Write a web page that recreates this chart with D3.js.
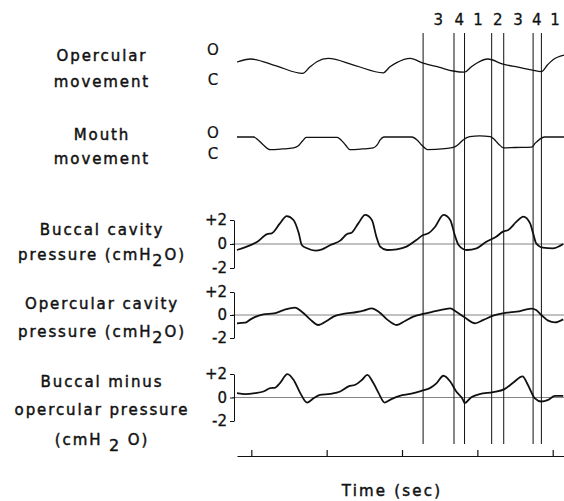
<!DOCTYPE html>
<html>
<head>
<meta charset="utf-8">
<script src="https://cdn.jsdelivr.net/npm/d3@7"></script>
<style>
  body { margin: 0; background: #fff; }
  text { font-family: "DejaVu Sans", sans-serif; fill: #111; stroke: #111; stroke-width: 0.45px; }
</style>
</head>
<body>
<script>
// time ticks (sec) and the phase markers
const timeTicks = [1, 2, 3, 4, 5];
const markerTimes = [3.28, 3.69, 3.83, 4.19, 4.35, 4.74, 4.85];
const phaseLabels = ["3", "4", "1", "2", "3", "4", "1"];
const phaseLabelTimes = [3.48, 3.76, 4.01, 4.27, 4.54, 4.79, 5.03];

// movement traces: [time, position] with C = 0, O = 1
const opercMovement = [[0.81,0.60],[0.99,0.70],[1.33,0.47],[1.68,0.22],[1.78,0.44],[1.87,0.61],[2.02,0.72],
  [2.38,0.48],[2.75,0.24],[2.84,0.44],[2.93,0.58],[3.11,0.72],[3.28,0.56],[3.50,0.42],[3.68,0.30],[3.83,0.26],
  [3.91,0.42],[3.99,0.56],[4.14,0.70],[4.34,0.53],[4.54,0.43],[4.73,0.33],[4.85,0.28],[4.93,0.50],[5.00,0.67],[5.15,0.83]];

const mouthMovement = [[0.81,0.81],[1.03,0.81],[1.09,0.67],[1.16,0.43],[1.25,0.21],[1.41,0.24],[1.56,0.29],
  [1.62,0.38],[1.68,0.62],[1.73,0.79],[2.14,0.79],[2.19,0.67],[2.25,0.43],[2.31,0.21],[2.47,0.24],[2.62,0.29],
  [2.67,0.43],[2.71,0.67],[2.76,0.81],[3.13,0.81],[3.20,0.67],[3.26,0.43],[3.34,0.21],[3.57,0.26],[3.68,0.31],
  [3.74,0.43],[3.81,0.67],[3.90,0.83],[4.03,0.86],[4.17,0.83],[4.22,0.71],[4.28,0.48],[4.35,0.29],[4.50,0.31],
  [4.72,0.33],[4.77,0.52],[4.83,0.71],[4.89,0.81],[5.15,0.81]];

// pressure traces: [time, cmH2O]
const buccalPressure = [[0.81,-0.5],[0.94,-0.22],[1.08,0.19],[1.21,0.83],[1.27,0.89],[1.38,1.72],[1.47,2.33],
  [1.56,2.0],[1.63,0.89],[1.67,-0.08],[1.74,-0.36],[1.85,-0.56],[1.94,-0.44],[2.05,-0.08],[2.18,0.28],[2.27,0.83],
  [2.33,0.94],[2.42,1.72],[2.51,2.42],[2.60,2.0],[2.66,0.61],[2.71,-0.22],[2.80,-0.5],[2.93,-0.44],[3.06,-0.22],
  [3.19,0.33],[3.28,0.75],[3.35,0.89],[3.44,1.44],[3.55,2.42],[3.64,2.0],[3.70,0.75],[3.75,-0.08],[3.86,-0.5],
  [3.99,-0.36],[4.12,0.19],[4.25,0.61],[4.34,1.03],[4.41,1.17],[4.52,1.86],[4.61,2.28],[4.70,1.72],[4.74,0.89],
  [4.78,0.06],[4.87,-0.31],[5.00,-0.36],[5.14,0]];

const opercPressure = [[0.81,-0.72],[0.92,-0.67],[0.99,-0.38],[1.08,-0.09],[1.16,0.06],[1.30,0.14],[1.43,0.43],
  [1.58,0.64],[1.67,0.29],[1.78,-0.38],[1.89,-0.87],[2.00,-0.52],[2.09,-0.14],[2.22,0.09],[2.40,0.26],[2.49,0.38],
  [2.60,0.58],[2.69,0.29],[2.80,-0.38],[2.93,-0.87],[3.04,-0.52],[3.15,-0.14],[3.28,0.09],[3.41,0.29],[3.55,0.49],
  [3.64,0.58],[3.72,0.29],[3.83,-0.20],[3.97,-0.72],[4.08,-0.43],[4.21,-0.06],[4.39,0.20],[4.52,0.29],[4.72,0.55],
  [4.78,0.43],[4.85,0.0],[4.94,-0.49],[5.03,-0.64],[5.14,-0.38]];

const diffPressure = [[0.81,0.37],[0.92,0.29],[1.05,0.37],[1.16,0.51],[1.25,0.80],[1.32,0.85],[1.38,1.23],
  [1.48,1.99],[1.56,1.51],[1.65,0.37],[1.74,-0.43],[1.83,-0.05],[1.91,0.23],[2.05,0.31],[2.18,0.51],[2.29,0.94],
  [2.38,1.08],[2.47,1.51],[2.54,1.93],[2.62,1.23],[2.69,0.37],[2.77,-0.43],[2.86,-0.14],[2.97,0.14],[3.11,0.31],
  [3.26,0.57],[3.37,0.80],[3.46,1.23],[3.55,1.85],[3.64,1.36],[3.72,0.51],[3.81,-0.2],[3.83,-0.48],[3.92,0.03],
  [4.03,0.29],[4.21,0.46],[4.36,0.71],[4.47,1.23],[4.60,1.79],[4.67,1.08],[4.76,-0.05],[4.85,-0.34],[4.94,-0.2],
  [5.03,0.14],[5.14,0.14]];

// row labels, "_2" marks the subscript
const labelOpercMove = ["Opercular", "movement"];
const labelMouthMove = ["Mouth", "movement"];
const labelBuccal = ["Buccal cavity", "pressure (cmH_2O)"];
const labelOpercCav = ["Opercular cavity", "pressure (cmH_2O)"];
const labelDiff = ["Buccal minus", "opercular pressure", "(cmH _2 O)"];
const positionLabels = ["C", "O"];
const pressureTicks = [-2, 0, 2];
const timeLabel = "Time (sec)";

const W = 564, H = 501;
const svg = d3.select("body").append("svg")
  .attr("width", W).attr("height", H);

const x = d3.scaleLinear().domain([0.81, 5.15]).range([237, 564]);

// each panel: its data, a y scale and where the label lines sit
const panels = [
  {data: opercMovement, y: d3.scaleLinear().domain([0, 1]).range([80, 50]), kind: "move", text: labelOpercMove, base: [60.5, 86.5], width: 1.3},
  {data: mouthMovement, y: d3.scaleLinear().domain([0, 1]).range([154, 133]), kind: "move", text: labelMouthMove, base: [140, 163.5], width: 1.3},
  {data: buccalPressure, y: d3.scaleLinear().domain([-2, 2]).range([268, 220]), kind: "press", text: labelBuccal, base: [235, 260], width: 1.8},
  {data: opercPressure, y: d3.scaleLinear().domain([-2, 2]).range([338, 292]), kind: "press", text: labelOpercCav, base: [308.5, 336.5], width: 1.8},
  {data: diffPressure, y: d3.scaleLinear().domain([-2, 2]).range([421, 374]), kind: "press", text: labelDiff, base: [386.5, 415, 445], width: 1.8}
];

function addLabelLine(g, str, yb) {
  const t = g.append("text")
    .attr("x", 102).attr("y", yb)
    .attr("text-anchor", "middle")
    .style("font-size", "15px")
    .style("letter-spacing", "1.9px");
  const parts = str.split("_2");
  if (parts.length === 1) { t.text(str); return; }
  t.append("tspan").text(parts[0]);
  t.append("tspan").attr("dy", 6).style("font-size", "16px").text("2");
  t.append("tspan").attr("dy", -6).text(parts[1]);
}

panels.forEach(function(p) {
  const g = svg.append("g");

  // label on the left
  p.text.forEach(function(s, i) { addLabelLine(g, s, p.base[i]); });

  if (p.kind === "move") {
    g.selectAll(".oc")
      .data([0, 1])
      .join("text")
        .attr("x", 213).attr("y", d => p.y(d))
        .attr("dy", "0.36em")
        .attr("text-anchor", "middle")
        .style("font-size", "15px")
        .style("stroke-width", "0.2px")
        .text(d => positionLabels[d]);
  } else {
    // zero line
    g.append("line")
      .attr("x1", 232).attr("x2", W)
      .attr("y1", p.y(0)).attr("y2", p.y(0))
      .attr("stroke", "#666").attr("stroke-width", 0.8);
    // bracket scale
    const ax = g.append("g")
      .attr("transform", "translate(234,0)")
      .call(d3.axisLeft(p.y).tickValues(pressureTicks).tickSize(4).tickSizeOuter(0).tickPadding(3)
        .tickFormat(d => d > 0 ? "+" + d : String(d)));
    ax.selectAll("path, line").attr("stroke", "#111").attr("stroke-width", 1);
    ax.selectAll("text").style("font-size", "15px").style("font-family", "DejaVu Sans")
      .attr("fill", "#111").style("stroke", "#111").style("stroke-width", "0.3px");
  }

  g.append("path")
    .datum(p.data)
    .attr("fill", "none")
    .attr("stroke", "#111")
    .attr("stroke-width", p.width)
    .attr("stroke-linejoin", "round")
    .attr("d", d3.line()
      .x(d => x(d[0]))
      .y(d => p.y(d[1]))
      .curve(d3.curveMonotoneX));
});

// phase markers
svg.append("g")
  .selectAll("line")
  .data(markerTimes)
  .join("line")
    .attr("x1", d => x(d)).attr("x2", d => x(d))
    .attr("y1", 33).attr("y2", 444)
    .attr("stroke", "#111").attr("stroke-width", 1);

svg.append("g")
  .selectAll("text")
  .data(phaseLabels)
  .join("text")
    .attr("x", (d, i) => x(phaseLabelTimes[i]))
    .attr("y", 25)
    .attr("text-anchor", "middle")
    .style("font-size", "15px")
    .style("stroke-width", "0.3px")
    .text(d => d);

// time axis, ticks pointing up
const tAxis = svg.append("g")
  .attr("transform", "translate(0,456)")
  .call(d3.axisTop(x).tickValues(timeTicks).tickSize(6).tickSizeOuter(0).tickFormat(""));
tAxis.selectAll("path, line").attr("stroke", "#111").attr("stroke-width", 1.2);

svg.append("text")
  .attr("x", 392).attr("y", 496)
  .attr("text-anchor", "middle")
  .style("font-size", "15px")
  .style("letter-spacing", "2.2px")
  .text(timeLabel);
</script>
</body>
</html>
